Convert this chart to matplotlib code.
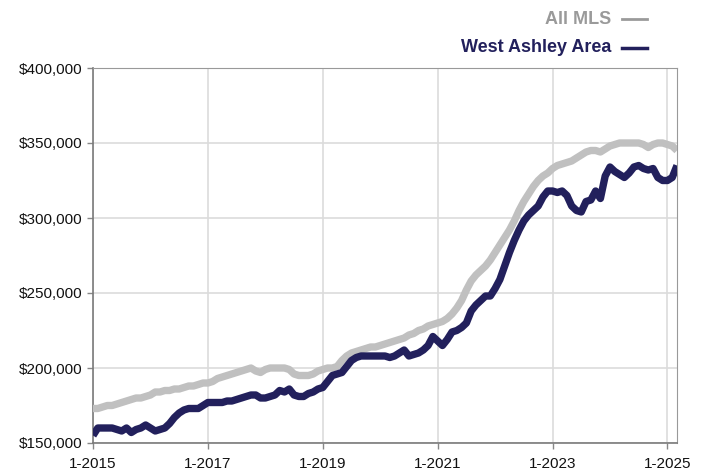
import matplotlib.pyplot as plt
from matplotlib.lines import Line2D

# monthly median price, Jan 2015 .. Mar 2025 (thousands)
all_mls = [173, 173, 174, 175, 175, 176, 177, 178, 179, 180, 180, 181,
           182, 184, 184, 185, 185, 186, 186, 187, 188, 188, 189, 190,
           190, 191, 193, 194, 195, 196, 197, 198, 199, 200, 198, 197,
           199, 200, 200, 200, 200, 199, 196, 195, 195, 195, 196, 198,
           199, 200, 200, 201, 205, 208, 210, 211, 212, 213, 214, 214,
           215, 216, 217, 218, 219, 220, 222, 223, 225, 226, 228, 229,
           230, 231, 233, 236, 240, 245, 252, 258, 262, 265, 268, 272,
           277, 282, 287, 292, 298, 305, 311, 316, 321, 325, 328, 330,
           333, 335, 336, 337, 338, 340, 342, 344, 345, 345, 344, 346,
           348, 349, 350, 350, 350, 350, 350, 349, 347, 349, 350, 350,
           349, 348, 345]
west_ashley = [155, 160, 160, 160, 160, 159, 158, 160, 157, 159, 160, 162,
               160, 158, 159, 160, 163, 167, 170, 172, 173, 173, 173, 175,
               177, 177, 177, 177, 178, 178, 179, 180, 181, 182, 182, 180,
               180, 181, 182, 185, 184, 186, 182, 181, 181, 183, 184, 186,
               187, 191, 195, 196, 197, 201, 205, 207, 208, 208, 208, 208,
               208, 208, 207, 208, 210, 212, 208, 209, 210, 212, 215, 221,
               218, 215, 219, 224, 225, 227, 230, 238, 242, 245, 248, 248,
               253, 259, 268, 277, 285, 292, 298, 302, 305, 308, 314, 318,
               318, 317, 318, 315, 308, 305, 304, 311, 312, 318, 313, 328,
               334, 331, 329, 327, 330, 334, 335, 333, 332, 333, 327, 325,
               325, 327, 335]
tick_labels = ["1-2015", "1-2017", "1-2019", "1-2021", "1-2023", "1-2025"]
y_ticks = [150000, 200000, 250000, 300000, 350000, 400000]

GRAY = "#c0c0c0"
NAVY = "#22205c"

plt.rcParams["font.family"] = ["Liberation Sans", "DejaVu Sans"]

fig = plt.figure(figsize=(7.06, 4.70), dpi=100)
ax = fig.add_axes([93 / 706, 27 / 470, 584 / 706, 375 / 470])

months = list(range(len(all_mls)))
ax.plot(months, [v * 1000 for v in all_mls], color=GRAY, lw=5.3,
        solid_capstyle="butt", zorder=3)
ax.plot(months, [v * 1000 for v in west_ashley], color=NAVY, lw=5.3,
        solid_capstyle="butt", zorder=4)

ax.set_xlim(0, len(all_mls) - 1)
ax.set_ylim(150000, 400000)
ax.set_xticks(range(0, 121, 24))
ax.set_xticklabels(tick_labels)
ax.set_yticks(y_ticks)
ax.set_yticklabels(["${:,}".format(v) for v in y_ticks])
ax.grid(True, color="#dcdcdc", lw=1.2, zorder=0)
ax.tick_params(labelsize=11, colors="#888888", labelcolor="#111111",
               length=4, width=1)
ax.tick_params(axis="x", pad=6)
for side in ["top", "right"]:
    ax.spines[side].set_color("#999999")
for side in ["left", "bottom"]:
    ax.spines[side].set_color("#7a7a7a")
    ax.spines[side].set_linewidth(1.2)

# legend in the top right corner
legend_font = ["Liberation Sans Narrow", "Liberation Sans", "DejaVu Sans"]
fig.text(611 / 706, 1 - 19 / 470, "All MLS", ha="right", va="center",
         fontsize=13, fontweight="bold", color="#9a9a9a", family=legend_font)
fig.text(611 / 706, 1 - 48 / 470, "West Ashley Area", ha="right",
         va="center", fontsize=13, fontweight="bold", color=NAVY,
         family=legend_font)
fig.add_artist(Line2D([622 / 706, 647 / 706], [1 - 19 / 470, 1 - 19 / 470],
                      color="#9a9a9a", lw=2, transform=fig.transFigure))
fig.add_artist(Line2D([622 / 706, 647 / 706], [1 - 48 / 470, 1 - 48 / 470],
                      color=NAVY, lw=2.5, transform=fig.transFigure))

fig.savefig("out.png", dpi=100)
